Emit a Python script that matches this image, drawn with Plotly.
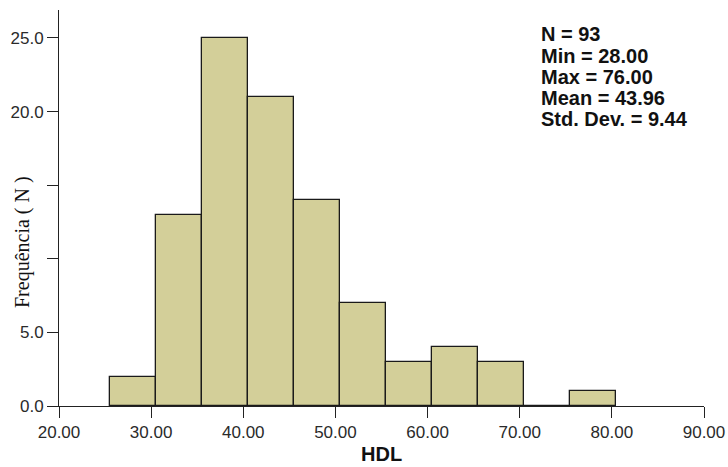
import plotly.graph_objects as go

# Data
bin_starts = [25.5, 30.5, 35.5, 40.5, 45.5, 50.5, 55.5, 60.5, 65.5, 70.5, 75.5]
bin_width = 5
counts = [2, 13, 25, 21, 14, 7, 3, 4, 3, 0, 1]
x_ticks = [20, 30, 40, 50, 60, 70, 80, 90]
x_tick_labels = ["20.00", "30.00", "40.00", "50.00", "60.00", "70.00", "80.00", "90.00"]
y_ticks = [0, 5, 10, 15, 20, 25]
y_tick_labels = ["0.0", "5.0", "", "", "20.0", "25.0"]
stats_lines = ["N = 93", "Min = 28.00", "Max = 76.00", "Mean = 43.96", "Std. Dev. = 9.44"]

centers = [s + bin_width / 2 for s in bin_starts]

fig = go.Figure()
fig.add_trace(go.Bar(
    x=centers, y=counts, width=[bin_width] * len(counts),
    marker=dict(color="#D3CF99", line=dict(color="#1a1a1a", width=1.3)),
    showlegend=False, hoverinfo="skip",
))

tick_font = dict(family="Liberation Sans, Arial, sans-serif", size=17, color="#2a2a2a")
plot_h = 467 - 10 - 61

annotations = []
for i, s in enumerate(stats_lines):
    annotations.append(dict(
        text="<b>%s</b>" % s,
        xref="paper", yref="paper", x=0.744, y=(406 - 34.5 - 21.25 * i) / plot_h,
        xanchor="left", yanchor="middle", align="left", showarrow=False,
        font=dict(family="Liberation Sans, Arial, sans-serif", size=20, color="#111111"),
    ))
annotations.append(dict(
    text="Frequência ( N )", textangle=-90,
    xref="paper", yref="paper", x=-0.0574, y=0.414,
    xanchor="center", yanchor="middle", showarrow=False,
    font=dict(family="Liberation Serif, Times New Roman, serif", size=20, color="#111111"),
))
annotations.append(dict(
    text="<b>HDL</b>",
    xref="paper", yref="paper", x=(381 - 59) / 645, y=(406 - 454) / plot_h,
    xanchor="center", yanchor="middle", showarrow=False,
    font=dict(family="Liberation Sans, Arial, sans-serif", size=20, color="#111111"),
))

fig.update_layout(
    width=728, height=467,
    margin=dict(l=59, r=24, t=10, b=61),
    paper_bgcolor="white", plot_bgcolor="white",
    bargap=0,
    xaxis=dict(
        range=[20, 90], tickvals=x_ticks, ticktext=x_tick_labels,
        showgrid=False, zeroline=False, showline=True, linecolor="#222222", linewidth=1,
        ticks="outside", ticklen=11, tickcolor="#222222", tickwidth=1,
        tickfont=tick_font, automargin=False,
    ),
    yaxis=dict(
        range=[0, 26.9], tickvals=y_ticks, ticktext=y_tick_labels,
        showgrid=False, zeroline=False, showline=True, linecolor="#222222", linewidth=1,
        ticks="outside", ticklen=11, tickcolor="#222222", tickwidth=1,
        tickfont=tick_font, automargin=False,
    ),
    annotations=annotations,
)

fig.write_html("out.html")
